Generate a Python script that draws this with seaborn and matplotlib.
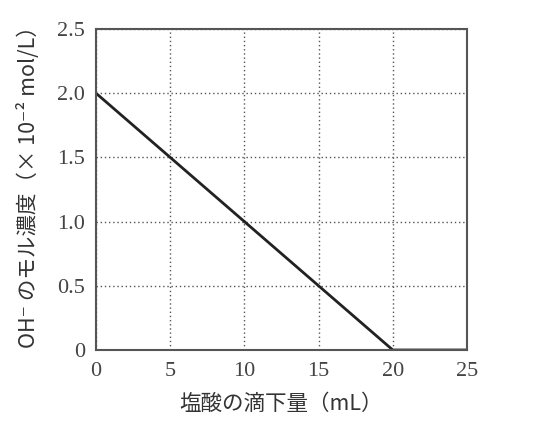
import matplotlib
matplotlib.use("Agg")
import matplotlib.pyplot as plt
import seaborn as sns
import pandas as pd

# titration data: HCl added (mL) vs OH- concentration (x10^-2 mol/L)
hcl_ml = [0, 20, 25]
oh_conc = [2.0, 0.0, 0.0]
x_ticks = [0, 5, 10, 15, 20, 25]
y_ticks = [0, 0.5, 1.0, 1.5, 2.0, 2.5]
y_tick_labels = ['0', '0.5', '1.0', '1.5', '2.0', '2.5']

sns.set_style('white')
plt.rcParams['font.family'] = ['Liberation Serif', 'DejaVu Serif']

df = pd.DataFrame({'hcl': hcl_ml, 'oh': oh_conc})

fig = plt.figure(figsize=(5.35, 4.33), dpi=100)
ax = fig.add_axes([96/535, 1 - 350/433, (467 - 96)/535, (350 - 29)/433])

sns.lineplot(data=df, x='hcl', y='oh', ax=ax, color='#222222', linewidth=2.0)

ax.set_xlim(0, 25)
ax.set_ylim(0, 2.5)
ax.set_xticks(x_ticks)
ax.set_yticks(y_ticks)
ax.set_yticklabels(y_tick_labels)
ax.tick_params(length=0, labelsize=16, labelcolor='#444444')
ax.tick_params(axis='x', pad=9)
ax.tick_params(axis='y', pad=8)
ax.grid(True, linestyle=(0, (1, 2)), color='#555555', linewidth=1.0)

for sp in ax.spines.values():
    sp.set_color('#555555')
    sp.set_linewidth(1.5)

jp = ['Noto Sans CJK JP', 'DejaVu Sans']
ax.set_xlabel('塩酸の滴下量（mL）', family=jp, fontsize=15.5, color='#333333', labelpad=8)
ax.set_ylabel('OH⁻ のモル濃度（× 10⁻² mol/L）', family=jp, fontsize=15.5, color='#333333')
ax.yaxis.set_label_coords(-0.152, 0.525)

fig.savefig('out.png', dpi=100)
